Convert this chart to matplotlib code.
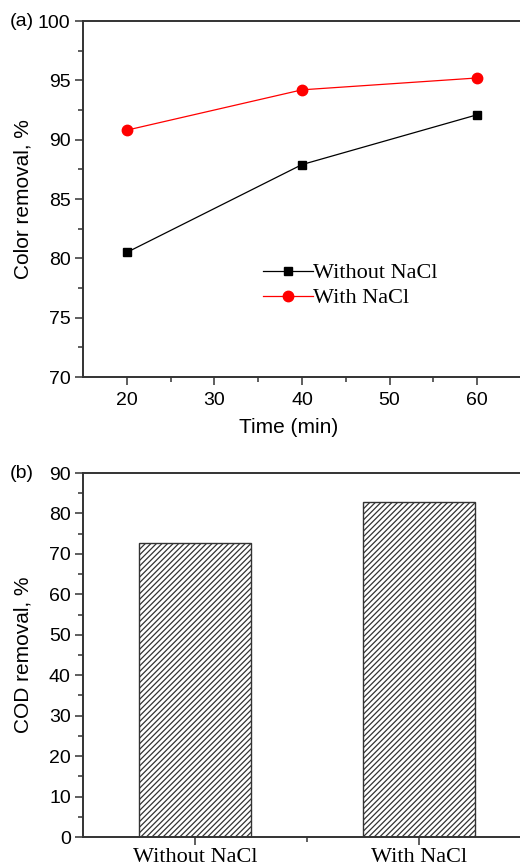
import matplotlib
matplotlib.use("Agg")
import matplotlib.pyplot as plt
from matplotlib.ticker import MultipleLocator, FixedLocator

plt.rcParams['font.family'] = ['Liberation Sans', 'DejaVu Sans']
plt.rcParams['hatch.linewidth'] = 0.9

# (a) colour removal vs time
time_min = [20, 40, 60]
without_nacl = [80.5, 87.9, 92.1]
with_nacl = [90.8, 94.2, 95.2]

# (b) COD removal
cod_labels = ["Without NaCl", "With NaCl"]
cod_values = [72.8, 82.8]

SPINE = "#333333"
W, H = 520, 868

fig = plt.figure(figsize=(W / 100, H / 100), dpi=100)


def style_axes(ax):
    for side in ("left", "bottom", "top"):
        ax.spines[side].set_color(SPINE)
        ax.spines[side].set_linewidth(1.4)
    ax.spines["right"].set_visible(False)
    ax.tick_params(which="both", direction="out", top=False, right=False,
                   color=SPINE, width=1.1)
    ax.tick_params(which="major", length=6, pad=3, labelsize=14)
    ax.tick_params(which="minor", length=3.5)


# panel (a)
ax1 = fig.add_axes([83 / W, 1 - 377 / H, 438 / W, 356 / H])
ax1.plot(time_min, without_nacl, color="black", lw=0.9, marker="s", ms=6,
         label="Without NaCl")
ax1.plot(time_min, with_nacl, color="red", lw=0.9, marker="o", ms=7.5,
         label="With NaCl")
ax1.set_xlim(15, 65)
ax1.set_ylim(70, 100)
ax1.xaxis.set_major_locator(FixedLocator([20, 30, 40, 50, 60]))
ax1.xaxis.set_minor_locator(FixedLocator([25, 35, 45, 55]))
ax1.yaxis.set_major_locator(MultipleLocator(5))
ax1.yaxis.set_minor_locator(MultipleLocator(2.5))
style_axes(ax1)
ax1.tick_params(axis="x", which="major", pad=5)
ax1.set_xlabel("Time (min)", fontsize=15)
ax1.xaxis.set_label_coords(0.47, -0.115)
ax1.set_ylabel("Color removal, %", fontsize=15)
ax1.yaxis.set_label_coords(-0.116, 0.5)
ax1.legend(loc="center left", bbox_to_anchor=(0.411, 0.257), frameon=False,
           prop={"family": "Liberation Serif", "size": 16},
           handlelength=2.25, handletextpad=0.0, labelspacing=0.2,
           borderpad=0, borderaxespad=0)

# panel (b)
ax2 = fig.add_axes([83.3 / W, 1 - 837 / H, 448 / W, 364 / H])
positions = [1, 2]
ax2.bar(positions, cod_values, width=0.5, color="white", edgecolor="#333333",
        linewidth=1.0, hatch="//////")
ax2.set_xlim(0.5, 2.5)
ax2.set_ylim(0, 90)
ax2.set_xticks(positions)
ax2.set_xticklabels(cod_labels, family="Liberation Serif", fontsize=16)
ax2.xaxis.set_minor_locator(FixedLocator([1.5]))
ax2.yaxis.set_major_locator(MultipleLocator(10))
ax2.yaxis.set_minor_locator(MultipleLocator(5))
style_axes(ax2)
ax2.tick_params(axis="x", which="major", labelsize=16, pad=2)
ax2.set_ylabel("COD removal, %", fontsize=15)
ax2.yaxis.set_label_coords(-0.1145, 0.5)

fig.text(10 / W, 1 - 21 / H, "(a)", fontsize=14, va="center", ha="left")
fig.text(10 / W, 1 - 473 / H, "(b)", fontsize=14, va="center", ha="left")

fig.savefig("out.png", dpi=100)
